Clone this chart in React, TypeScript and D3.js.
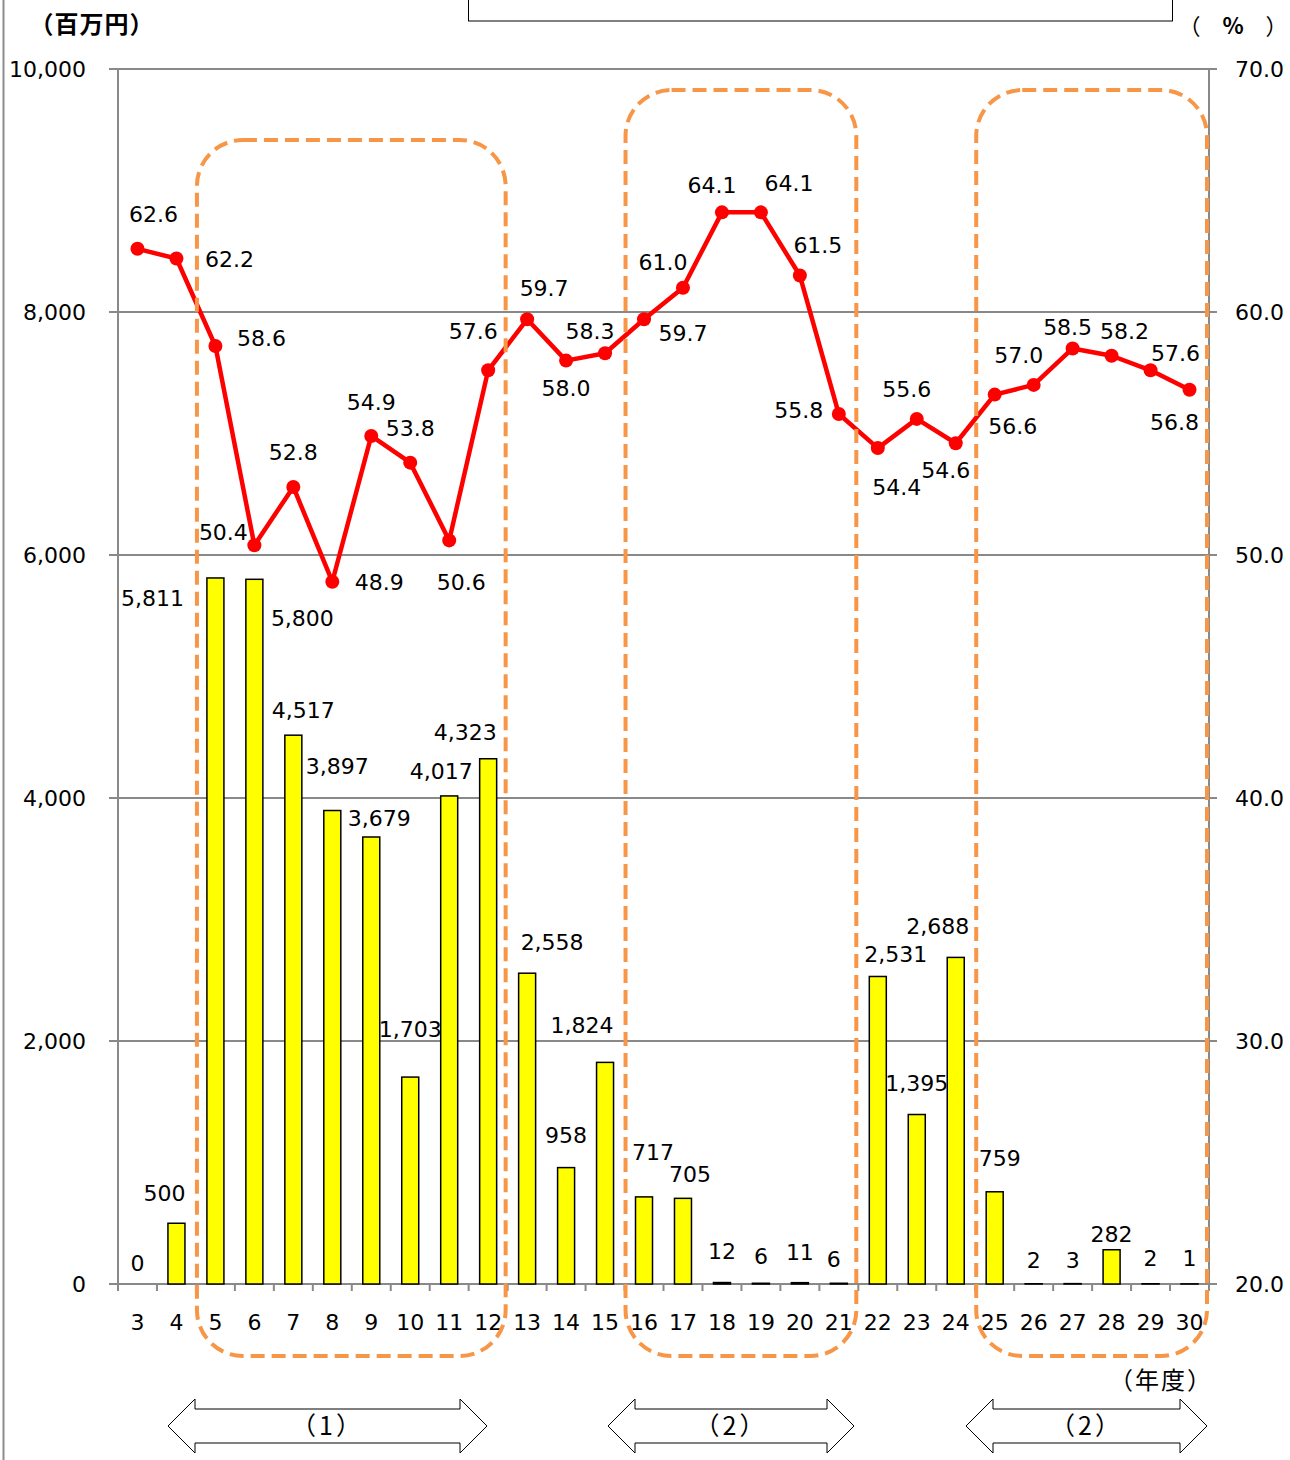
import * as d3 from 'd3';

// fiscal years (平成)
const years = ['3', '4', '5', '6', '7', '8', '9', '10', '11', '12', '13', '14', '15', '16', '17', '18', '19', '20', '21', '22', '23', '24', '25', '26', '27', '28', '29', '30'];
// amount, million yen (bars, left axis)
const amounts = [0, 500, 5811, 5800, 4517, 3897, 3679, 1703, 4017, 4323, 2558, 958, 1824, 717, 705, 12, 6, 11, 6, 2531, 1395, 2688, 759, 2, 3, 282, 2, 1];
// ratio, % (line, right axis)
const rates = [62.6, 62.2, 58.6, 50.4, 52.8, 48.9, 54.9, 53.8, 50.6, 57.6, 59.7, 58.0, 58.3, 59.7, 61.0, 64.1, 64.1, 61.5, 55.8, 54.4, 55.6, 54.6, 56.6, 57.0, 58.5, 58.2, 57.6, 56.8];
const leftTicks = [0, 2000, 4000, 6000, 8000, 10000];
const rightTicks = [20, 30, 40, 50, 60, 70];
// highlighted periods: [first year, last year, label]
const periods: [string, string, string][] = [
  ['5', '12', '（1）'],
  ['16', '21', '（2）'],
  ['25', '30', '（2）'],
];

// label nudges (dx, dy from the mark), as placed in the original
const amountLabelOffsets = [[0, -21], [-12, -30], [-63, 20], [48, 39], [10, -25], [5, -44], [8, -19], [0, -48], [-8, -25], [-23, -27], [25, -31], [0, -33], [-23, -37], [9, -45], [7, -24], [0, -31], [0, -27], [0, -31], [-5, -24], [18, -22], [0, -31], [-18, -31], [5, -34], [0, -24], [0, -24], [0, -16], [0, -26], [0, -26]];
const rateLabelOffsets = [[16, -35], [53, 1], [46, -8], [-31, -13], [0, -35], [47, 0], [0, -34], [0, -35], [12, 42], [-15, -39], [17, -31], [0, 27], [-15, -22], [39, 14], [-20, -26], [-10, -27], [28, -29], [18, -30], [-40, -4], [19, 39], [-10, -30], [-10, 27], [18, 31], [-15, -30], [-5, -21], [13, -25], [25, -17], [-15, 32]];
const boxTops = [140, 90, 90];
const arrowSpans = [[168, 487], [608, 854], [966, 1207]];

const W = 1290;
const H = 1460;
const left = 118;
const right = 1209;
const top = 69;
const bottom = 1284;

const numFont = '"DejaVu Sans", Verdana, sans-serif';
const jpFont = '"Noto Sans CJK JP", sans-serif';
const gridColor = '#898989';
const orange = '#F79646';

export default function App() {
  const x = d3.scaleBand().domain(years).range([left, right]).padding(0);
  const step = x.step();
  const barW = 17;
  const yL = d3.scaleLinear().domain([0, 10000]).range([bottom, top]);
  const yR = d3.scaleLinear().domain([20, 70]).range([bottom, top]);
  const cx = (d: string) => (x(d) ?? 0) + step / 2;

  const line = d3
    .line<number>()
    .x((_, i) => cx(years[i]))
    .y((d) => yR(d));

  const fmtL = d3.format(',');
  const fmtR = d3.format('.1f');

  const arrowPath = (x0: number, x1: number, cy: number) => {
    const h = 27;
    const a = 27;
    const s = 17;
    return `M${x0},${cy} L${x0 + h},${cy - a} L${x0 + h},${cy - s} L${x1 - h},${cy - s} L${x1 - h},${cy - a} L${x1},${cy} L${x1 - h},${cy + a} L${x1 - h},${cy + s} L${x0 + h},${cy + s} L${x0 + h},${cy + a} Z`;
  };

  return (
    <svg
      width={W}
      height={H}
      style={{ position: 'absolute', left: 0, top: 0, background: '#fff' }}
    >
      {/* page frame line and cut-off legend box */}
      <line x1={3.5} x2={3.5} y1={0} y2={H} stroke="#8c8c8c" strokeWidth={2} />
      <rect x={468.5} y={-10} width={704} height={31} fill="none" stroke="#000" strokeWidth={1} />

      {/* gridlines + left ticks */}
      {leftTicks.map((t) => (
        <line key={'g' + t} x1={left - 9} x2={right + 8} y1={yL(t)} y2={yL(t)} stroke={gridColor} strokeWidth={2} />
      ))}
      {/* axes */}
      <line x1={left} x2={left} y1={top} y2={bottom} stroke={gridColor} strokeWidth={2} />
      <line x1={right} x2={right} y1={top} y2={bottom} stroke={gridColor} strokeWidth={2} />
      {d3.range(years.length + 1).map((i) => (
        <line key={'xt' + i} x1={left + i * step} x2={left + i * step} y1={bottom} y2={bottom + 7} stroke={gridColor} strokeWidth={2} />
      ))}

      {/* left tick labels */}
      {leftTicks.map((t) => (
        <text key={'lt' + t} x={86} y={yL(t)} dy="0.36em" textAnchor="end" fontFamily={numFont} fontSize={22} fill="#000">
          {fmtL(t)}
        </text>
      ))}
      {/* right tick labels */}
      {rightTicks.map((t) => (
        <text key={'rt' + t} x={1235} y={yR(t)} dy="0.36em" textAnchor="start" fontFamily={numFont} fontSize={22} fill="#000">
          {fmtR(t)}
        </text>
      ))}
      {/* x labels */}
      {years.map((yr) => (
        <text key={'xl' + yr} x={cx(yr)} y={1322} dy="0.36em" textAnchor="middle" fontFamily={numFont} fontSize={22} fill="#000">
          {yr}
        </text>
      ))}

      {/* bars */}
      {amounts.map((v, i) => (
        <rect
          key={'b' + i}
          x={cx(years[i]) - barW / 2}
          y={yL(v)}
          width={barW}
          height={bottom - yL(v)}
          fill="#FFFF00"
          stroke="#000"
          strokeWidth={1.5}
        />
      ))}

      {/* ratio line */}
      <path d={line(rates) ?? ''} fill="none" stroke="#FF0000" strokeWidth={4.5} strokeLinejoin="round" />
      {rates.map((v, i) => (
        <circle key={'c' + i} cx={cx(years[i])} cy={yR(v)} r={7} fill="#FF0000" />
      ))}

      {/* bar labels */}
      {amounts.map((v, i) => (
        <text
          key={'bl' + i}
          x={cx(years[i]) + amountLabelOffsets[i][0]}
          y={yL(v) + amountLabelOffsets[i][1]}
          dy="0.36em"
          textAnchor="middle"
          fontFamily={numFont}
          fontSize={22}
          fill="#000"
        >
          {fmtL(v)}
        </text>
      ))}
      {/* line labels */}
      {rates.map((v, i) => (
        <text
          key={'rl' + i}
          x={cx(years[i]) + rateLabelOffsets[i][0]}
          y={yR(v) + rateLabelOffsets[i][1]}
          dy="0.36em"
          textAnchor="middle"
          fontFamily={numFont}
          fontSize={22}
          fill="#000"
        >
          {fmtR(v)}
        </text>
      ))}

      {/* unit labels */}
      <text x={92} y={24} dy="0.36em" textAnchor="middle" fontFamily={jpFont} fontSize={24} fontWeight={600} letterSpacing={1} fill="#000">
        （百万円）
      </text>
      <text x={1233} y={26} dy="0.36em" textAnchor="middle" fontFamily={jpFont} fontSize={22} fill="#000">
        （　<tspan fontWeight={700}>%</tspan>　）
      </text>
      <text x={1161} y={1380} dy="0.36em" textAnchor="middle" fontFamily={jpFont} fontSize={24} letterSpacing={2} fill="#000">
        （年度）
      </text>

      {/* highlighted periods */}
      {periods.map(([a, b], i) => {
        const x0 = (x(a) ?? 0) + 1;
        const x1 = (x(b) ?? 0) + step - 2;
        return (
          <rect
            key={'p' + i}
            x={x0}
            y={boxTops[i]}
            width={x1 - x0}
            height={1356 - boxTops[i]}
            rx={46}
            ry={46}
            fill="none"
            stroke={orange}
            strokeWidth={4}
            strokeDasharray="14 7"
          />
        );
      })}

      {/* period arrows */}
      {periods.map(([, , label], i) => {
        const [x0, x1] = arrowSpans[i];
        return (
          <g key={'a' + i}>
            <path d={arrowPath(x0, x1, 1426)} fill="#fff" stroke="#000" strokeWidth={1} />
            <text x={(x0 + x1) / 2} y={1426} dy="0.36em" textAnchor="middle" fontFamily={jpFont} fontSize={25} letterSpacing={3} fill="#000">
              {label}
            </text>
          </g>
        );
      })}
    </svg>
  );
}
